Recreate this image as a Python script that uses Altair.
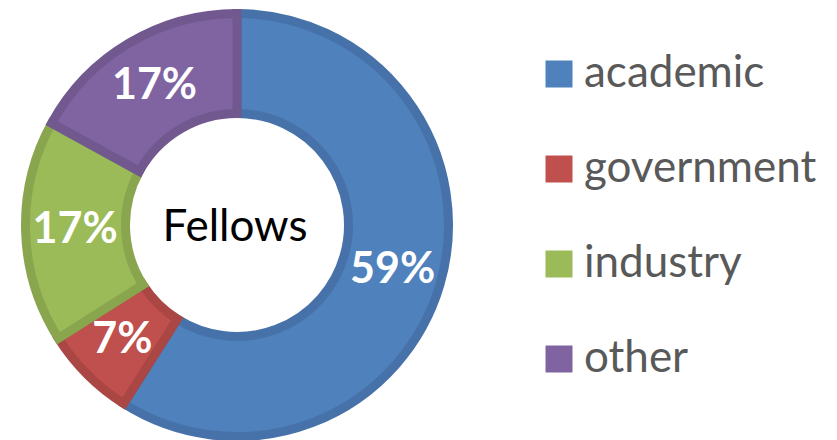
import altair as alt
import pandas as pd

categories = ["academic", "government", "industry", "other"]
values = [59, 7, 17, 17]
labels = ["59%", "7%", "17%", "17%"]
fill_colors = ["#4F81BD", "#C0504D", "#9BBB59", "#8064A2"]
stroke_colors = ["#4672A9", "#AA4643", "#89A54E", "#71588F"]
center_label = ["Fellows"]

df = pd.DataFrame({"category": categories, "value": values, "label": labels,
                   "order": list(range(len(categories)))})

CX, CY = 229, 217

base = alt.Chart(df).encode(
    theta=alt.Theta("value:Q", stack=True),
    order=alt.Order("order:Q"),
)

arcs = base.mark_arc(outerRadius=211.5, innerRadius=111.5, strokeWidth=9).encode(
    x=alt.value(CX), y=alt.value(CY),
    color=alt.Color("category:N",
                    scale=alt.Scale(domain=categories, range=fill_colors),
                    legend=alt.Legend(title=None, orient="none", legendX=529, legendY=44,
                                      symbolType="square", symbolSize=729,
                                      symbolStrokeWidth=0, labelFontSize=44,
                                      labelFont="Lato", labelColor="#595959",
                                      labelOffset=3, rowPadding=51,
                                      labelLimit=400)),
    stroke=alt.Stroke("category:N",
                      scale=alt.Scale(domain=categories, range=stroke_colors),
                      legend=None),
)

texts = base.mark_text(radius=162, font="Lato", fontSize=43, fontWeight="bold",
                       color="white", baseline="middle", align="center").encode(
    x=alt.value(CX), y=alt.value(CY),
    text="label:N",
)

center = alt.Chart(pd.DataFrame({"t": center_label})).mark_text(
    font="Lato", fontSize=44, color="black", baseline="middle", align="center"
).encode(x=alt.value(CX - 2), y=alt.value(CY + 3), text="t:N")

chart = alt.layer(arcs, texts, center).properties(
    width=821, height=432,
    autosize=alt.AutoSizeParams(type="none"),
    padding=0,
).configure_view(stroke=None)

chart.save("out.html", embed_options={"renderer": "svg", "actions": False})
